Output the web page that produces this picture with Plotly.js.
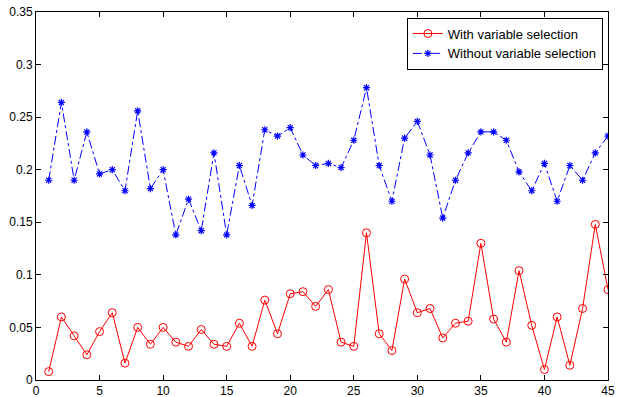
<!DOCTYPE html>
<html>
<head>
<meta charset="utf-8">
<script src="https://cdn.plot.ly/plotly-3.0.1.min.js"></script>
<style>html,body{margin:0;padding:0;background:#fff;}#chart{width:617px;height:397px;}</style>
</head>
<body>
<div id="chart"></div>
<script>
const xIdx = [1,2,3,4,5,6,7,8,9,10,11,12,13,14,15,16,17,18,19,20,21,22,23,24,25,26,27,28,29,30,31,32,33,34,35,36,37,38,39,40,41,42,43,44,45];
const withSel = [0.008,0.060,0.042,0.024,0.046,0.064,0.016,0.050,0.034,0.050,0.036,0.032,0.048,0.034,0.032,0.054,0.032,0.076,0.044,0.082,0.084,0.070,0.086,0.036,0.032,0.140,0.044,0.028,0.096,0.064,0.068,0.040,0.054,0.056,0.130,0.058,0.036,0.104,0.052,0.010,0.060,0.014,0.068,0.148,0.086];
const withoutSel = [0.190,0.264,0.190,0.236,0.196,0.200,0.180,0.256,0.182,0.200,0.138,0.172,0.142,0.216,0.138,0.204,0.166,0.238,0.232,0.240,0.214,0.204,0.206,0.202,0.228,0.278,0.204,0.170,0.230,0.246,0.214,0.154,0.190,0.216,0.236,0.236,0.228,0.198,0.180,0.206,0.170,0.204,0.190,0.216,0.232];
const xTicks = [0,5,10,15,20,25,30,35,40,45];
const yTicks = [0,0.05,0.1,0.15,0.2,0.25,0.3,0.35];
const yTickText = ['0','0.05','0.1','0.15','0.2','0.25','0.3','0.35'];

const traces = [
  {x: xIdx, y: withSel, name: 'With variable selection', mode: 'lines+markers',
   line: {color: '#ff0000', width: 1},
   marker: {symbol: 'circle-open', size: 8, color: '#ff0000', line: {width: 1}}},
  {x: xIdx, y: withoutSel, name: 'Without variable selection', mode: 'lines+markers',
   line: {color: '#0000ff', width: 1, dash: 'dashdot'},
   marker: {symbol: 'asterisk-open', size: 6, color: '#0000ff', line: {width: 1.2, color: '#0000ff'}}}
];

const axisCommon = {
  showgrid: false, zeroline: false, showline: true, mirror: 'ticks',
  linecolor: '#000', linewidth: 1, ticks: 'inside', ticklen: 5, tickcolor: '#000',
  tickfont: {family: 'Liberation Sans, Arial, sans-serif', size: 12, color: '#000'}
};

const layout = {
  width: 617, height: 397,
  margin: {l: 36, r: 9, t: 12, b: 17},
  paper_bgcolor: '#fff', plot_bgcolor: '#fff',
  showlegend: true,
  legend: {x: 0.991, xanchor: 'right', y: 0.985, yanchor: 'top',
    bgcolor: '#fff', bordercolor: '#000', borderwidth: 1,
    font: {family: 'Liberation Sans, Arial, sans-serif', size: 13, color: '#000'},
    tracegroupgap: 0, itemwidth: 30},
  xaxis: Object.assign({}, axisCommon, {range: [0, 45], tickvals: xTicks}),
  yaxis: Object.assign({}, axisCommon, {range: [0, 0.35], tickvals: yTicks, ticktext: yTickText})
};

Plotly.newPlot('chart', traces, layout, {displayModeBar: false, staticPlot: true});
</script>
</body>
</html>
